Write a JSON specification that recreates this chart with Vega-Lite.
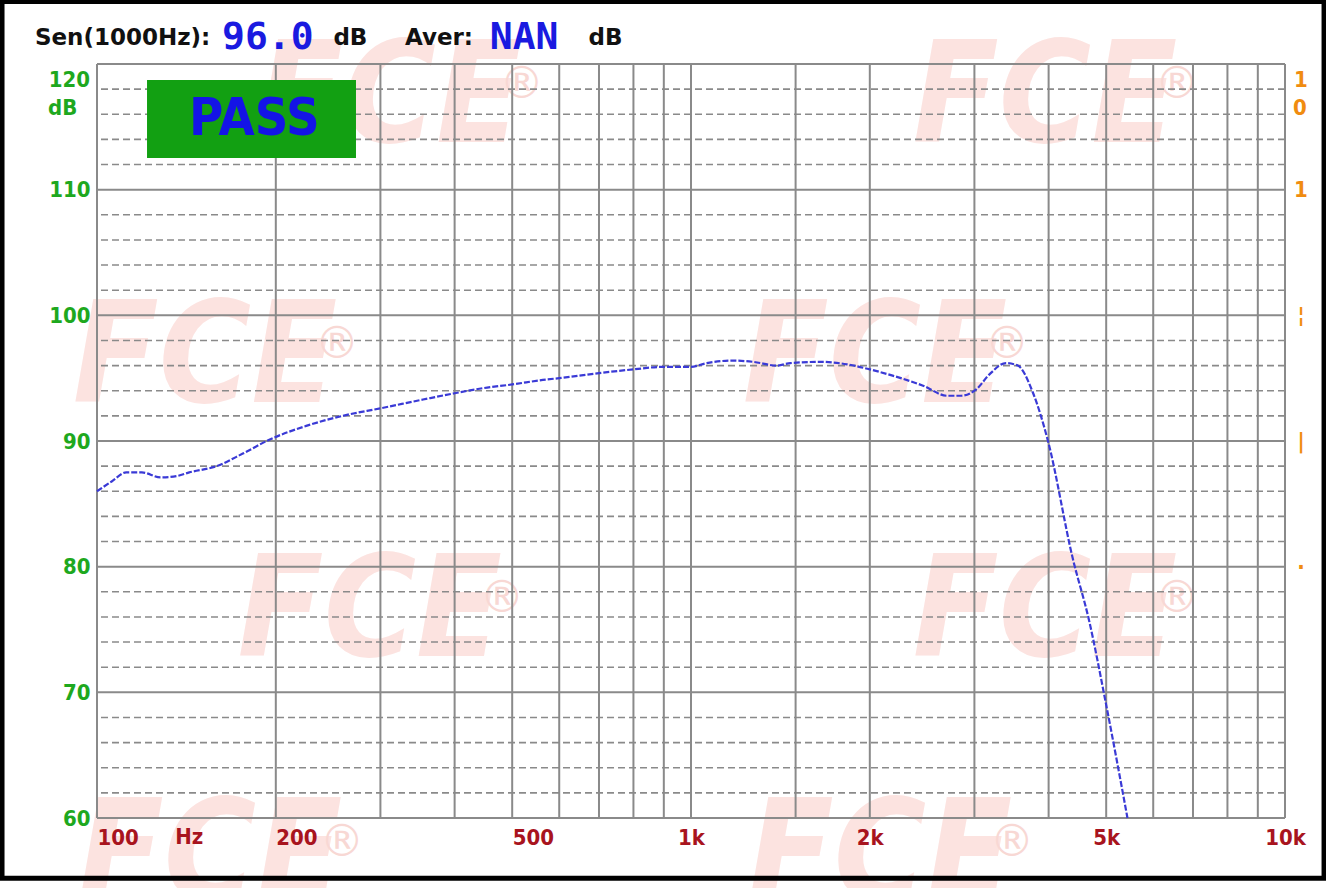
{
  "$schema": "https://vega.github.io/schema/vega-lite/v6.json",
  "width": 1188,
  "height": 754,
  "autosize": {"type": "none"},
  "padding": {"left": 97, "top": 64, "right": 41, "bottom": 70},
  "background": "white",
  "config": {
    "view": {"stroke": null},
    "axis": {"grid": false, "ticks": false, "domain": false, "labelOverlap": false, "labelFlush": false, "labelBound": false}
  },
  "datasets": {
    "curve": [
      {"f": 100, "db": 86.0}, {"f": 106, "db": 86.8}, {"f": 112, "db": 87.5}, {"f": 119, "db": 87.5},
      {"f": 128, "db": 87.1}, {"f": 136, "db": 87.2}, {"f": 143, "db": 87.5}, {"f": 159, "db": 88.0},
      {"f": 176, "db": 89.0}, {"f": 195, "db": 90.1}, {"f": 225, "db": 91.2}, {"f": 259, "db": 92.0},
      {"f": 300, "db": 92.6}, {"f": 354, "db": 93.3}, {"f": 400, "db": 93.8}, {"f": 446, "db": 94.2},
      {"f": 500, "db": 94.5}, {"f": 572, "db": 94.9}, {"f": 600, "db": 95.0}, {"f": 700, "db": 95.4},
      {"f": 800, "db": 95.7}, {"f": 900, "db": 95.9}, {"f": 1000, "db": 95.9}, {"f": 1063, "db": 96.2},
      {"f": 1177, "db": 96.4}, {"f": 1272, "db": 96.3}, {"f": 1396, "db": 96.0}, {"f": 1470, "db": 96.2},
      {"f": 1650, "db": 96.3}, {"f": 1832, "db": 96.1}, {"f": 2000, "db": 95.7}, {"f": 2185, "db": 95.2},
      {"f": 2459, "db": 94.4}, {"f": 2700, "db": 93.6}, {"f": 2850, "db": 93.6}, {"f": 3020, "db": 94.1},
      {"f": 3180, "db": 95.3}, {"f": 3390, "db": 96.2}, {"f": 3550, "db": 96.0}, {"f": 3760, "db": 93.9},
      {"f": 3990, "db": 90.0}, {"f": 4390, "db": 80.7}, {"f": 4680, "db": 75.7}, {"f": 5000, "db": 69.0},
      {"f": 5430, "db": 60.0}
    ],
    "gx": [
      {"f": 100}, {"f": 200}, {"f": 300}, {"f": 400}, {"f": 500}, {"f": 600}, {"f": 700}, {"f": 800},
      {"f": 900}, {"f": 1000}, {"f": 1500}, {"f": 2000}, {"f": 3000}, {"f": 4000}, {"f": 5000},
      {"f": 6000}, {"f": 7000}, {"f": 8000}, {"f": 9000}, {"f": 10000}
    ],
    "gy": [
      {"db": 60}, {"db": 70}, {"db": 80}, {"db": 90}, {"db": 100}, {"db": 110}, {"db": 120}
    ],
    "gyd": [
      {"db": 62}, {"db": 64}, {"db": 66}, {"db": 68}, {"db": 72}, {"db": 74}, {"db": 76}, {"db": 78},
      {"db": 82}, {"db": 84}, {"db": 86}, {"db": 88}, {"db": 92}, {"db": 94}, {"db": 96}, {"db": 98},
      {"db": 102}, {"db": 104}, {"db": 106}, {"db": 108}, {"db": 112}, {"db": 114}, {"db": 116}, {"db": 118}
    ],
    "wm": [
      {"f": 311, "db": 117.1}, {"f": 3945, "db": 117.1}, {"f": 152, "db": 96.45}, {"f": 2040, "db": 96.45},
      {"f": 288, "db": 76.2}, {"f": 3945, "db": 76.2}, {"f": 155, "db": 56.8}, {"f": 2080, "db": 56.8}
    ],
    "pass": [{"f1": 121.4, "f2": 272.9, "db1": 118.73, "db2": 112.52, "fc": 184, "dbc": 115.6, "t": "PASS"}],
    "hdrBlack": [
      {"f": 78.6, "db": 122.07, "t": "Sen(1000Hz):"},
      {"f": 250, "db": 122.07, "t": "dB"},
      {"f": 329.9, "db": 122.07, "t": "Aver:"},
      {"f": 672, "db": 122.07, "t": "dB"}
    ],
    "hdrBlue": [
      {"f": 162.4, "db": 122.07, "t": "96.0"},
      {"f": 458.5, "db": 122.07, "t": "NAN"}
    ],
    "frame": [{"f1": 69.2, "f2": 11634, "db1": 124.97, "db2": 55.2}]
  },
  "layer": [
    {
      "data": {"name": "wm"},
      "mark": {"type": "text", "text": "FCE", "font": "DejaVu Sans Condensed", "fontSize": 140, "fontWeight": "bold", "fontStyle": "italic", "color": "#fce3e0", "align": "center", "baseline": "middle"},
      "encoding": {
        "x": {"field": "f", "type": "quantitative", "scale": {"type": "log", "domain": [100, 10000]}},
        "y": {"field": "db", "type": "quantitative", "scale": {"domain": [60, 120], "zero": false, "nice": false}}
      }
    },
    {
      "data": {"name": "wm"},
      "mark": {"type": "text", "text": "®", "font": "DejaVu Sans", "fontSize": 44, "color": "#f8d8d4", "align": "center", "baseline": "middle", "dx": 132, "dy": -15},
      "encoding": {
        "x": {"field": "f", "type": "quantitative", "scale": {"type": "log", "domain": [100, 10000]}},
        "y": {"field": "db", "type": "quantitative", "scale": {"domain": [60, 120], "zero": false, "nice": false}}
      }
    },
    {
      "data": {"name": "gyd"},
      "mark": {"type": "rule", "color": "#8a8a8a", "strokeWidth": 1.6, "strokeDash": [7, 4]},
      "encoding": {
        "y": {"field": "db", "type": "quantitative", "scale": {"domain": [60, 120], "zero": false, "nice": false}}
      }
    },
    {
      "data": {"name": "gx"},
      "mark": {"type": "rule", "color": "#8a8a8a", "strokeWidth": 2},
      "encoding": {
        "x": {
          "field": "f", "type": "quantitative",
          "scale": {"type": "log", "domain": [100, 10000]},
          "axis": {
            "title": null, "values": [100, 200, 500, 1000, 2000, 5000, 10000],
            "labelExpr": "datum.value >= 1000 ? format(datum.value / 1000, 'd') + 'k' : format(datum.value, 'd')",
            "labelAlign": {"condition": {"test": "datum.value < 1000", "value": "left"}, "value": "center"},
            "labelFlush": false, "labelOverlap": false, "labelBound": false, "zindex": 1,
            "labelColor": "#a8141e", "labelFont": "DejaVu Sans Condensed", "labelFontWeight": "bold", "labelFontSize": 22,
            "labelPadding": 9, "ticks": false, "domain": false, "grid": false
          }
        }
      }
    },
    {
      "data": {"name": "gy"},
      "mark": {"type": "rule", "color": "#8a8a8a", "strokeWidth": 2},
      "encoding": {
        "y": {
          "field": "db", "type": "quantitative",
          "scale": {"domain": [60, 120], "zero": false, "nice": false},
          "axis": {
            "title": null, "values": [60, 70, 80, 90, 100, 110], "zindex": 1,
            "labelColor": "#1ea81e", "labelFont": "DejaVu Sans Condensed", "labelFontWeight": "bold", "labelFontSize": 22,
            "labelPadding": 7, "ticks": false, "domain": false, "grid": false, "labelFlush": false
          }
        }
      }
    },
    {
      "data": {"name": "curve"},
      "mark": {"type": "line", "color": "#3a3ad6", "strokeWidth": 2.2, "interpolate": "monotone", "strokeDash": [6, 2]},
      "encoding": {
        "x": {"field": "f", "type": "quantitative", "scale": {"type": "log", "domain": [100, 10000]}},
        "y": {"field": "db", "type": "quantitative", "scale": {"domain": [60, 120], "zero": false, "nice": false}}
      }
    },
    {
      "data": {"name": "pass"},
      "mark": {"type": "rect", "color": "#12a012"},
      "encoding": {
        "x": {"field": "f1", "type": "quantitative", "scale": {"type": "log", "domain": [100, 10000]}},
        "x2": {"field": "f2"},
        "y": {"field": "db1", "type": "quantitative", "scale": {"domain": [60, 120], "zero": false, "nice": false}},
        "y2": {"field": "db2"}
      }
    },
    {
      "data": {"name": "pass"},
      "mark": {"type": "text", "font": "DejaVu Sans Condensed", "fontWeight": "bold", "fontSize": 52, "color": "#1414e6", "align": "center", "baseline": "middle"},
      "encoding": {
        "x": {"field": "fc", "type": "quantitative", "scale": {"type": "log", "domain": [100, 10000]}},
        "y": {"field": "dbc", "type": "quantitative", "scale": {"domain": [60, 120], "zero": false, "nice": false}},
        "text": {"field": "t"}
      }
    },
    {
      "data": {"name": "hdrBlack"},
      "mark": {"type": "text", "font": "DejaVu Sans", "fontWeight": "bold", "fontSize": 23, "color": "#111111", "align": "left", "baseline": "middle"},
      "encoding": {
        "x": {"field": "f", "type": "quantitative", "scale": {"type": "log", "domain": [100, 10000]}},
        "y": {"field": "db", "type": "quantitative", "scale": {"domain": [60, 120], "zero": false, "nice": false}},
        "text": {"field": "t"}
      }
    },
    {
      "data": {"name": "hdrBlue"},
      "mark": {"type": "text", "font": "DejaVu Sans Mono", "fontWeight": "bold", "fontSize": 38, "color": "#1a1ae0", "align": "left", "baseline": "middle"},
      "encoding": {
        "x": {"field": "f", "type": "quantitative", "scale": {"type": "log", "domain": [100, 10000]}},
        "y": {"field": "db", "type": "quantitative", "scale": {"domain": [60, 120], "zero": false, "nice": false}},
        "text": {"field": "t"}
      }
    },
    {
      "data": {"values": [{"f": 100, "db": 120, "t": "120"}]},
      "mark": {"type": "text", "font": "DejaVu Sans Condensed", "fontWeight": "bold", "fontSize": 22, "color": "#1ea81e", "align": "right", "baseline": "middle", "dx": -7, "dy": 16},
      "encoding": {
        "x": {"field": "f", "type": "quantitative", "scale": {"type": "log", "domain": [100, 10000]}},
        "y": {"field": "db", "type": "quantitative", "scale": {"domain": [60, 120], "zero": false, "nice": false}},
        "text": {"field": "t"}
      }
    },
    {
      "data": {"values": [{"f": 100, "db": 120, "t": "dB"}]},
      "mark": {"type": "text", "font": "DejaVu Sans Condensed", "fontWeight": "bold", "fontSize": 22, "color": "#1ea81e", "align": "left", "baseline": "middle", "dx": -49, "dy": 44},
      "encoding": {
        "x": {"field": "f", "type": "quantitative", "scale": {"type": "log", "domain": [100, 10000]}},
        "y": {"field": "db", "type": "quantitative", "scale": {"domain": [60, 120], "zero": false, "nice": false}},
        "text": {"field": "t"}
      }
    },
    {
      "data": {"values": [{"f": 10000, "db": 120, "t": "1"}]},
      "mark": {"type": "text", "font": "DejaVu Sans Condensed", "fontWeight": "bold", "fontSize": 22, "color": "#f08c10", "align": "center", "baseline": "middle", "dx": 16, "dy": 16},
      "encoding": {
        "x": {"field": "f", "type": "quantitative", "scale": {"type": "log", "domain": [100, 10000]}},
        "y": {"field": "db", "type": "quantitative", "scale": {"domain": [60, 120], "zero": false, "nice": false}},
        "text": {"field": "t"}
      }
    },
    {
      "data": {"values": [{"f": 10000, "db": 120, "t": "0"}]},
      "mark": {"type": "text", "font": "DejaVu Sans Condensed", "fontWeight": "bold", "fontSize": 22, "color": "#f08c10", "align": "center", "baseline": "middle", "dx": 15, "dy": 44},
      "encoding": {
        "x": {"field": "f", "type": "quantitative", "scale": {"type": "log", "domain": [100, 10000]}},
        "y": {"field": "db", "type": "quantitative", "scale": {"domain": [60, 120], "zero": false, "nice": false}},
        "text": {"field": "t"}
      }
    },
    {
      "data": {"values": [{"f": 10000, "db": 110, "t": "1"}, {"f": 10000, "db": 100, "t": "¦"}, {"f": 10000, "db": 90, "t": "|"}, {"f": 10000, "db": 80, "t": "·"}]},
      "mark": {"type": "text", "font": "DejaVu Sans Condensed", "fontWeight": "bold", "fontSize": 22, "color": "#f08c10", "align": "center", "baseline": "middle", "dx": 16},
      "encoding": {
        "x": {"field": "f", "type": "quantitative", "scale": {"type": "log", "domain": [100, 10000]}},
        "y": {"field": "db", "type": "quantitative", "scale": {"domain": [60, 120], "zero": false, "nice": false}},
        "text": {"field": "t"}
      }
    },
    {
      "data": {"values": [{"f": 143, "db": 60, "t": "Hz"}]},
      "mark": {"type": "text", "font": "DejaVu Sans Condensed", "fontWeight": "bold", "fontSize": 22, "color": "#a8141e", "align": "center", "baseline": "top", "dy": 9},
      "encoding": {
        "x": {"field": "f", "type": "quantitative", "scale": {"type": "log", "domain": [100, 10000]}},
        "y": {"field": "db", "type": "quantitative", "scale": {"domain": [60, 120], "zero": false, "nice": false}},
        "text": {"field": "t"}
      }
    },
    {
      "data": {"name": "frame"},
      "mark": {"type": "rect", "fill": null, "fillOpacity": 0, "stroke": "#000000", "strokeWidth": 5},
      "encoding": {
        "x": {"field": "f1", "type": "quantitative", "scale": {"type": "log", "domain": [100, 10000]}},
        "x2": {"field": "f2"},
        "y": {"field": "db1", "type": "quantitative", "scale": {"domain": [60, 120], "zero": false, "nice": false}},
        "y2": {"field": "db2"}
      }
    }
  ]
}
